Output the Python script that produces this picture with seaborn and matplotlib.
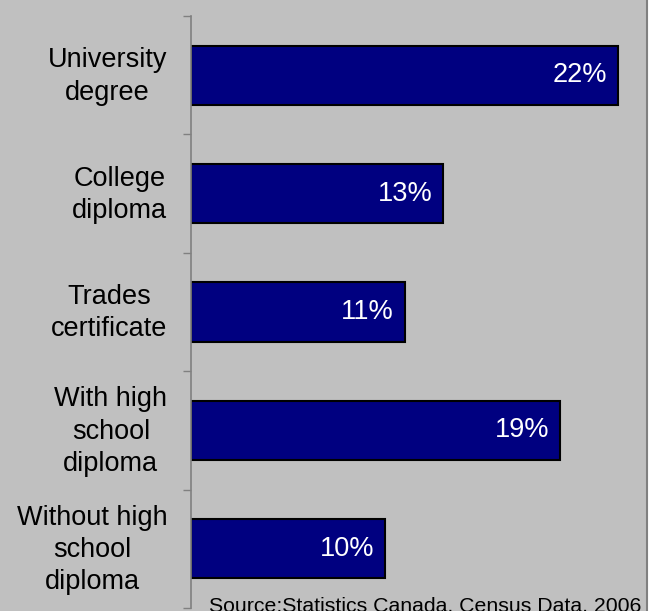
import matplotlib
matplotlib.use('Agg')
import matplotlib.pyplot as plt
import matplotlib.transforms as mtransforms
import seaborn as sns
import numpy as np
from matplotlib.patches import Rectangle
from matplotlib.lines import Line2D

# 数据
categories = ['University\ndegree', 'College\ndiploma', 'Trades\ncertificate',
              'With high\nschool\ndiploma', 'Without high\nschool\ndiploma']
values = [22, 13, 11, 19, 10]
value_labels = ['22%', '13%', '11%', '19%', '10%']
source_text = 'Source:Statistics Canada, Census Data, 2006'

bg = '#C0C0C0'
sns.set_style('white')
plt.rcParams['font.family'] = ['Liberation Sans', 'DejaVu Sans']

fig = plt.figure(figsize=(6.59, 6.11), dpi=100, facecolor=bg)
ax = fig.add_axes([191 / 659, 3 / 611, 456 / 659, 592 / 611])
ax.set_facecolor(bg)

sns.barplot(x=values, y=categories, orient='h', color='#000080',
            edgecolor='black', linewidth=1.5, width=0.5, saturation=1, ax=ax)

ax.set_xlim(0, 23.48)
ax.set_ylim(4.5, -0.5)

# 数值标签
for i, (v, lab) in enumerate(zip(values, value_labels)):
    ax.text(v - 0.55, i, lab, color='white', fontsize=19.5,
            ha='right', va='center')

# 坐标轴
for s in ['top', 'right', 'bottom']:
    ax.spines[s].set_visible(False)
ax.spines['left'].set_color('#808080')
ax.spines['left'].set_linewidth(1.2)
ax.set_xticks([])
ax.set_yticks(np.arange(-0.5, 5, 1), minor=True)
ax.tick_params(axis='y', which='minor', left=True, length=5.8, width=1.0,
               color='#808080')
ax.tick_params(axis='y', which='major', left=False, length=0, pad=17,
               labelsize=19.5, labelcolor='black')
shift = mtransforms.ScaledTranslation(0, 0.05, fig.dpi_scale_trans)
for t in ax.get_yticklabels():
    t.set_multialignment('center')
    t.set_linespacing(1.32)
    t.set_transform(t.get_transform() + shift)
ax.set_xlabel('')
ax.set_ylabel('')

# 来源
fig.text(209 / 659, 1 - 597 / 611, source_text, fontsize=15.3, color='black',
         ha='left', va='top')

# 右侧白边
fig.patches.append(Rectangle((647 / 659, 0), 12 / 659, 1, transform=fig.transFigure,
                             facecolor='white', edgecolor='none', zorder=5))
fig.lines.append(Line2D([647 / 659, 647 / 659], [0, 1], transform=fig.transFigure,
                        color='#808080', linewidth=1.5, zorder=6))

fig.savefig('out.png', dpi=100, facecolor=bg)
